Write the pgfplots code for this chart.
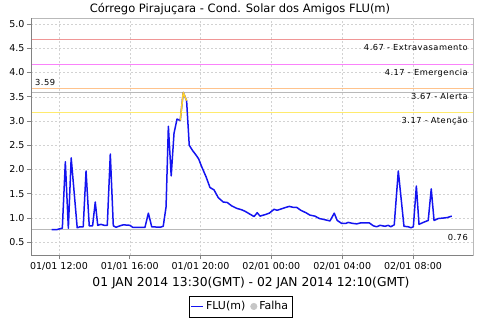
\documentclass[border=0pt]{standalone}
\usepackage{pgfplots}
\pgfplotsset{compat=1.18}
\usepackage{pgfplotstable}
\usepackage{fontspec}
\setmainfont{DejaVu Sans}
\definecolor{flublue}{RGB}{20,20,240}
\definecolor{flyellow}{RGB}{255,210,40}
\definecolor{thrExt}{RGB}{240,150,150}
\definecolor{thrEme}{RGB}{250,130,250}
\definecolor{thrAle}{RGB}{255,195,140}
\definecolor{thrAte}{RGB}{255,235,110}
\definecolor{refgray}{RGB}{185,185,185}
\definecolor{axgray}{RGB}{130,130,130}
\pgfplotstableread{
h v
11.59 0.76
11.87 0.76
12.06 0.78
12.19 0.79
12.36 2.16
12.53 0.79
12.69 2.24
13.03 0.80
13.19 0.82
13.37 0.82
13.53 1.97
13.71 0.84
13.90 0.84
14.05 1.33
14.19 0.85
14.37 0.87
14.56 0.85
14.73 0.85
14.90 2.32
15.07 0.84
15.22 0.81
15.45 0.84
15.63 0.86
16.01 0.85
16.16 0.81
16.86 0.81
17.05 1.10
17.24 0.82
17.71 0.81
17.89 0.83
18.05 1.23
18.18 2.89
18.34 1.87
18.50 2.75
18.67 3.04
18.85 3.01
19.02 3.59
19.21 3.42
19.36 2.50
19.55 2.39
19.74 2.30
19.89 2.22
20.06 2.06
20.31 1.85
20.53 1.63
20.76 1.58
21.00 1.42
21.28 1.33
21.51 1.32
21.76 1.25
22.04 1.20
22.32 1.17
22.51 1.14
22.79 1.08
23.02 1.03
23.20 1.11
23.36 1.04
23.64 1.07
23.88 1.10
24.15 1.18
24.33 1.16
24.58 1.19
24.82 1.22
25.01 1.24
25.24 1.22
25.43 1.22
25.66 1.16
25.95 1.11
26.18 1.06
26.46 1.04
26.71 0.99
26.97 0.97
27.31 0.94
27.55 1.10
27.72 0.95
27.97 0.89
28.21 0.89
28.34 0.91
28.59 0.89
28.82 0.88
29.05 0.90
29.53 0.90
29.76 0.84
29.95 0.82
30.14 0.85
30.42 0.83
30.60 0.85
30.74 0.82
30.94 0.86
31.17 1.97
31.49 0.83
31.73 0.82
31.89 0.80
32.02 0.82
32.19 1.66
32.34 0.87
32.58 0.91
32.86 0.95
33.03 1.60
33.19 0.95
33.43 0.99
33.71 1.00
33.94 1.01
34.19 1.04
}\fludata
\pgfplotstableread{
h v
18.85 3.01
19.02 3.59
19.21 3.42
}\alertdata
\begin{document}
\begin{tikzpicture}[x=1pt,y=1pt]
\begin{axis}[
  at={(31pt,64.5pt)}, anchor=south west,
  scale only axis, width=442pt, height=237pt,
  xmin=10.42, xmax=35.39, ymin=0.228, ymax=5.113,
  axis line style={draw=refgray, line width=0.8pt},
  tick pos=left, tick align=outside, major tick length=4pt,
  tick style={axgray, line width=0.6pt},
  xtick={12,16,20,24,28,32},
  xticklabels={01/01 12:00,01/01 16:00,01/01 20:00,02/01 00:00,02/01 04:00,02/01 08:00},
  ytick={0.5,1.0,1.5,2.0,2.5,3.0,3.5,4.0,4.5,5.0},
  /pgf/number format/assume math mode=true,
  yticklabel style={/pgf/number format/fixed,/pgf/number format/fixed zerofill,/pgf/number format/precision=1},
  ticklabel style={font=\fontsize{9.5}{10}\selectfont},
  xticklabel style={yshift=1pt},
  yticklabel style={xshift=1pt},
  grid=major,
  major grid style={draw=gray!35, dash pattern=on 2pt off 2pt, line width=0.4pt},
  legend columns=2,
  legend style={at={(0.474,-0.215)}, anchor=center, draw=black, line width=0.6pt,
    font=\fontsize{11}{12}\selectfont, inner xsep=2pt, inner ysep=3.5pt,
    /tikz/every even column/.append style={column sep=3pt}},
  legend cell align=left,
  legend image code/.code={\draw[#1, line width=1.2pt] (0pt,0pt) -- (12pt,0pt);},
]
\addplot[thrExt, line width=1pt, forget plot] coordinates {(10.42,4.67) (35.39,4.67)};
\addplot[thrEme, line width=1pt, forget plot] coordinates {(10.42,4.17) (35.39,4.17)};
\addplot[thrAle, line width=1pt, forget plot] coordinates {(10.42,3.67) (35.39,3.67)};
\addplot[refgray, line width=1pt, forget plot] coordinates {(10.42,3.59) (35.39,3.59)};
\addplot[thrAte, line width=1pt, forget plot] coordinates {(10.42,3.17) (35.39,3.17)};
\addplot[refgray, line width=1pt, forget plot] coordinates {(10.42,0.76) (35.39,0.76)};
\addplot[flublue, line width=1.5pt, line join=round] table[x=h,y=v] {\fludata};
\addlegendentry{FLU(m)}
\addplot[flyellow, line width=1.5pt, line join=round, forget plot] table[x=h,y=v] {\alertdata};
\addlegendimage{only marks, mark=*, mark size=3pt, color=gray!45, legend image code/.code={\fill[gray!45] (5pt,0pt) circle (3.2pt);}}
\addlegendentry{Falha}
\begin{scope}[every node/.style={inner sep=0pt, font=\fontsize{8.3}{9}\selectfont\addfontfeature{LetterSpace=6}}]
\node[anchor=base east] at ([xshift=-5pt,yshift=-10.8pt]axis cs:35.39,4.67) {4.67 - Extravasamento};
\node[anchor=base east] at ([xshift=-5pt,yshift=-10.8pt]axis cs:35.39,4.17) {4.17 - Emergencia};
\node[anchor=base east] at ([xshift=-5pt,yshift=-10.8pt]axis cs:35.39,3.67) {3.67 - Alerta};
\node[anchor=base east] at ([xshift=-5pt,yshift=-10.8pt]axis cs:35.39,3.17) {3.17 - Atenção};
\node[anchor=base east] at ([xshift=-5pt,yshift=-10.8pt]axis cs:35.39,0.76) {0.76};
\node[anchor=base west] at ([xshift=4pt,yshift=6.4pt]axis cs:10.42,3.59) {3.59};
\end{scope}
\draw[axgray, line width=0.8pt] (rel axis cs:0,1) -- (rel axis cs:0,0) -- (rel axis cs:1,0);
\end{axis}
\node[font=\fontsize{11.5}{12}\selectfont] at (240pt,310.5pt) {Córrego Pirajuçara - Cond. Solar dos Amigos FLU(m)};
\node[font=\fontsize{12.3}{13}\selectfont, anchor=base] at (251pt,33.5pt) {01 JAN 2014 13:30(GMT) - 02 JAN 2014 12:10(GMT)};
\pgfresetboundingbox
\path (0pt,0pt) rectangle (480pt,320pt);
\end{tikzpicture}
\end{document}
